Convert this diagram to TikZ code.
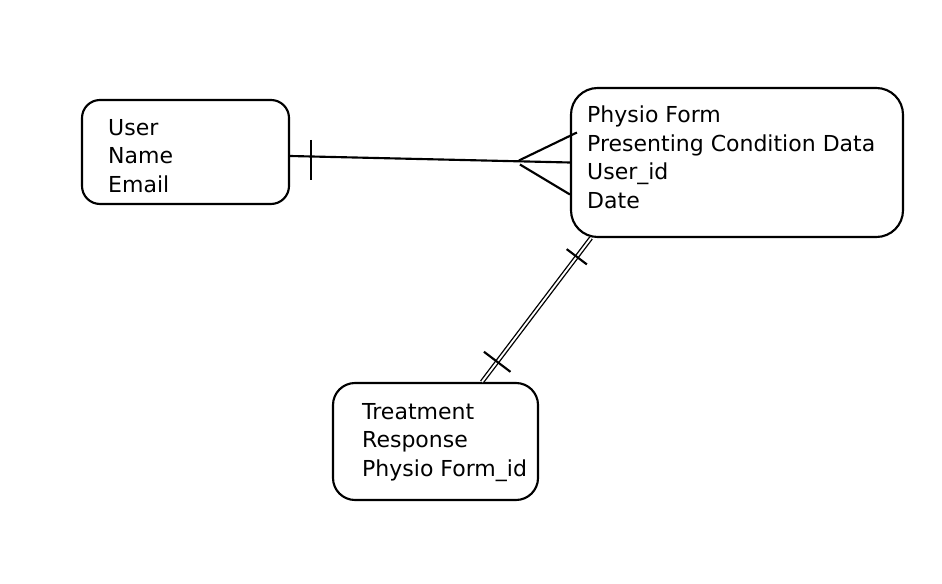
\documentclass[tikz,border=0pt]{standalone}
\usepackage{fontspec}
\setmainfont{DejaVu Sans}
\usetikzlibrary{calc}

\tikzset{
  entity/.style={draw, line width=1.6pt, rounded corners=#1, inner sep=0pt},
  entity/.default=14pt,
  fieldtext/.style={anchor=north west, inner sep=0pt, align=left, font=\fontsize{16.5}{21.3}\selectfont},
  relline/.style={line width=1.6pt},
  idline/.style={line width=1pt, double, double distance=1.4pt},
}

\begin{document}
\begin{tikzpicture}[x=0.75pt,y=0.75pt,yscale=-1,xscale=1]
\useasboundingbox (0,0) rectangle (942,584);

%Rounded Rect [User]
\node [entity=13.5pt, minimum width=155.25pt, minimum height=78pt] (user) at (185.5,152) {};
%Rounded Rect [Physio Form]
\node [entity=20pt, minimum width=249pt, minimum height=111.75pt] (physio) at (737,162.5) {};
%Rounded Rect [Treatment]
\node [entity=16.5pt, minimum width=153.75pt, minimum height=87.75pt] (treat) at (435.5,441.5) {};

% Text Node
\node [fieldtext] (userTxt) at ($(user.north west)+(27,20)$) {User\\Name\\Email};
% Text Node
\node [fieldtext] (physioTxt) at ($(physio.north west)+(17,19)$) {Physio Form\\Presenting Condition Data\\User\_id\\Date};
% Text Node
\node [fieldtext] (treatTxt) at ($(treat.north west)+(30,21)$) {Treatment\\Response\\Physio Form\_id};

%Straight Lines [User -- Physio Form]
\coordinate (uR) at ($(user.east)+(0,4)$);
\coordinate (crow) at ($(physio.west)+(-51,-2)$);
\draw [relline] (uR) -- (physio.west);
\draw [relline] ($(uR)+(21,-16)$) -- ($(uR)+(21,24)$);
\draw [relline] (crow) -- ($(physio.west)+(7,-30)$);
\draw [relline] ($(crow)+(1,4)$) -- ($(physio.west)+(0,32)$);

%Double Lines [Physio Form -- Treatment]
\coordinate (pB) at ($(physio.south west)+(21,0)$);
\coordinate (tT) at ($(treat.north west)+(150,0)$);
\draw [idline] (pB) -- (tT);
\coordinate (m1) at ($(pB)!0.13!(tT)$);
\coordinate (m2) at ($(pB)!0.86!(tT)$);
\draw [relline] ($(m1)!9.5pt!90:(tT)$) -- ($(m1)!9.5pt!-90:(tT)$);
\draw [relline] ($(m2)!12.5pt!90:(tT)$) -- ($(m2)!12.5pt!-90:(tT)$);
\end{tikzpicture}
\end{document}
